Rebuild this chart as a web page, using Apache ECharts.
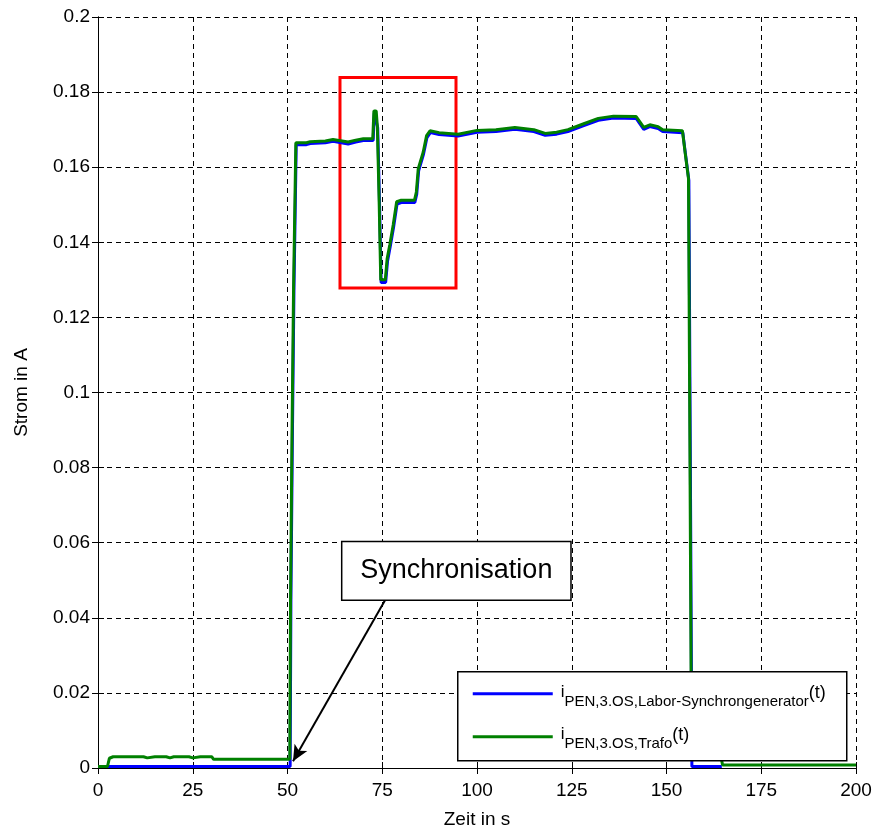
<!DOCTYPE html>
<html>
<head>
<meta charset="utf-8">
<script src="https://cdn.jsdelivr.net/npm/echarts@6/dist/echarts.min.js"></script>
<style>
html,body{margin:0;padding:0;background:#fff;}
#c{width:876px;height:834px;}
</style>
</head>
<body>
<div id="c"></div>
<script>
// time [s], current [A]
const synchrongeneratorData = [
  [0,0.0004],[50.7,0.0004],[50.9,0.045],[51.3,0.089],[51.7,0.127],[52.3,0.1660],[55,0.1660],[56,0.1663],
  [60,0.1665],[62,0.1669],[66,0.1662],[68,0.1667],[70,0.1671],[72.6,0.1671],[72.9,0.1745],[73.4,0.1745],
  [73.8,0.1705],[74.3,0.1495],[74.7,0.1293],[75.9,0.1293],[76.4,0.135],[77.1,0.1388],[78,0.1441],[78.9,0.1502],
  [80,0.1506],[83.6,0.1506],[84.1,0.1528],[84.6,0.159],[85.9,0.1635],[86.8,0.1679],[87.7,0.1692],[90,0.1687],
  [95,0.1683],[100,0.1693],[105,0.1695],[110,0.1701],[115,0.1695],[118,0.1685],[121,0.1688],[124,0.1695],
  [128,0.171],[132,0.1725],[136,0.1731],[142,0.173],[144,0.1701],[145.6,0.1708],[147.8,0.1703],[149,0.1695],
  [154.3,0.1692],[155,0.1635],[155.9,0.1565],[156.3,0.080],[156.7,0.0004],[164.6,0.0004]
];
const trafoData = [
  [0,0.0004],[2.5,0.0004],[3,0.0026],[4,0.003],[12,0.003],[13,0.0027],[15,0.003],[18,0.003],[19,0.0027],
  [20,0.003],[24,0.003],[25,0.0027],[27,0.003],[30,0.003],[30.5,0.0023],[50.6,0.0023],[50.8,0.045],[51.2,0.09],
  [51.6,0.128],[52.2,0.1665],[55,0.1665],[56,0.1668],[60,0.1670],[62,0.1674],[66,0.1667],[68,0.1672],[70,0.1676],
  [72.5,0.1676],[72.8,0.175],[73.4,0.175],[73.7,0.171],[74.2,0.150],[74.6,0.130],[75.8,0.130],[76.3,0.1357],
  [77,0.1394],[77.9,0.1447],[78.8,0.1508],[80,0.1512],[83.5,0.1512],[84,0.1534],[84.5,0.1596],[85.8,0.164],
  [86.7,0.1684],[87.6,0.1697],[90,0.1692],[95,0.1688],[100,0.1698],[105,0.170],[110,0.1706],[115,0.1700],
  [118,0.1690],[121,0.1693],[124,0.1700],[128,0.1715],[132,0.1730],[136,0.1736],[142,0.1735],[144,0.1706],
  [145.6,0.1713],[147.8,0.1708],[149,0.1700],[154.2,0.1697],[154.9,0.164],[155.8,0.157],[156.2,0.081],
  [156.6,0.0023],[164.5,0.0023],[164.8,0.0008],[200,0.0008]
];
const xTickLabels = ['0','25','50','75','100','125','150','175','200'];
const yTickLabels = ['0','0.02','0.04','0.06','0.08','0.1','0.12','0.14','0.16','0.18','0.2'];
const seriesNames = ['Labor-Synchrongenerator','Trafo'];
const highlightBox = [[63.85,0.1839],[94.46,0.1278]];
const syncBox = [[64.3,0.0603],[124.8,0.0447]];
const syncArrow = [[75.7,0.0446],[51.45,0.0018]];

const FONT = 'Arial, "Liberation Sans", sans-serif';
const chart = echarts.init(document.getElementById('c'), null, {renderer:'canvas'});

const axisCommon = {
  axisLine:{show:true,lineStyle:{color:'#000',width:1}},
  axisTick:{show:true,inside:true,length:6,lineStyle:{color:'#000'}},
};
const xStep = 25, yStep = 0.02;

function legendText(name){
  return {
    text:'{i|i}{s|PEN,3.OS,' + name + '}{t|(t)}',
    rich:{
      i:{fontSize:17,fontFamily:FONT,fill:'#000',verticalAlign:'top',lineHeight:26},
      s:{fontSize:15,fontFamily:FONT,fill:'#000',verticalAlign:'bottom',lineHeight:26},
      t:{fontSize:18,fontFamily:FONT,fill:'#000',verticalAlign:'top',lineHeight:26}
    }
  };
}

chart.setOption({
  animation:false,
  backgroundColor:'#fff',
  grid:{left:98,right:20,top:17,bottom:61,containLabel:false},
  xAxis:[
    Object.assign({type:'value',min:0,max:200,interval:xStep,position:'bottom',
      name:'Zeit in s',nameLocation:'middle',nameGap:42,
      nameTextStyle:{fontSize:19,color:'#000',fontFamily:FONT},
      axisLabel:{fontSize:19,color:'#000',fontFamily:FONT,margin:13,
        formatter:v=>xTickLabels[Math.round(v/xStep)]},
      splitLine:{show:true,lineStyle:{color:'#000',type:[5,4],width:1}}},axisCommon),
    Object.assign({type:'value',min:0,max:200,interval:xStep,position:'top',
      axisLabel:{show:false},splitLine:{show:false}},axisCommon)
  ],
  yAxis:[
    Object.assign({type:'value',min:0,max:0.2,interval:yStep,position:'left',
      name:'Strom in A',nameLocation:'middle',nameGap:67,
      nameTextStyle:{fontSize:19,color:'#000',fontFamily:FONT},
      axisLabel:{fontSize:19,color:'#000',fontFamily:FONT,margin:8,
        formatter:v=>yTickLabels[Math.round(v/yStep)]},
      splitLine:{show:true,lineStyle:{color:'#000',type:[5,4],width:1}}},axisCommon),
    Object.assign({type:'value',min:0,max:0.2,interval:yStep,position:'right',
      axisLabel:{show:false},splitLine:{show:false}},axisCommon)
  ],
  series:[
    {name:seriesNames[0],type:'line',data:synchrongeneratorData,showSymbol:false,
      lineStyle:{color:'#0000ff',width:3},itemStyle:{color:'#0000ff'},z:3},
    {name:seriesNames[1],type:'line',data:trafoData,showSymbol:false,
      lineStyle:{color:'#008000',width:3},itemStyle:{color:'#008000'},z:4,
      markArea:{silent:true,
        data:[
          [{coord:highlightBox[0],itemStyle:{color:'rgba(0,0,0,0)',borderColor:'#ff0000',borderWidth:3}},
           {coord:highlightBox[1]}],
          [{coord:syncBox[0],itemStyle:{color:'#fff',borderColor:'#000',borderWidth:1.5},
            label:{show:true,position:'inside',formatter:'Synchronisation',fontSize:27,color:'#000',fontFamily:FONT}},
           {coord:syncBox[1]}]
        ]},
      markLine:{silent:true,symbol:['none','arrow'],symbolSize:[11,16],
        lineStyle:{color:'#000',width:2,type:'solid'},label:{show:false},
        data:[[{coord:syncArrow[0]},{coord:syncArrow[1]}]]}
    }
  ],
  graphic:[
    {type:'group',left:457,top:671,z:100,children:[
      {type:'rect',z:100,shape:{x:0,y:0,width:389,height:89},style:{fill:'#fff',stroke:'#000',lineWidth:1.5}},
      {type:'line',z:101,shape:{x1:15,y1:22,x2:95,y2:22},style:{stroke:'#0000ff',lineWidth:3}},
      {type:'line',z:101,shape:{x1:15,y1:65,x2:95,y2:65},style:{stroke:'#008000',lineWidth:3}},
      {type:'text',z:101,x:103,y:12,style:legendText(seriesNames[0])},
      {type:'text',z:101,x:103,y:54,style:legendText(seriesNames[1])}
    ]}
  ]
});
</script>
</body>
</html>
